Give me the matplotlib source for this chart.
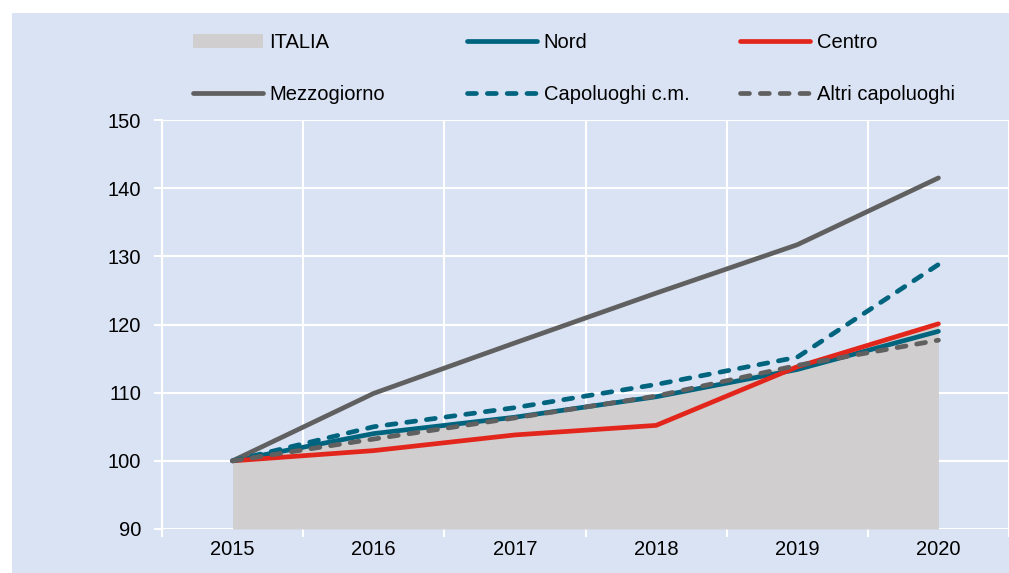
import matplotlib
matplotlib.use("Agg")
import matplotlib.pyplot as plt
from matplotlib.lines import Line2D
from matplotlib.patches import Rectangle, Patch
from matplotlib import font_manager

years = ["2015", "2016", "2017", "2018", "2019", "2020"]
italia = [100, 103.8, 106.3, 109.6, 114.2, 120.5]
nord = [100, 104.0, 106.4, 109.4, 113.4, 119.0]
centro = [100, 101.5, 103.8, 105.2, 113.8, 120.1]
mezzogiorno = [100, 109.9, 117.3, 124.6, 131.7, 141.5]
capoluoghi = [100, 105.0, 107.8, 111.2, 115.2, 128.8]
altri = [100, 103.2, 106.3, 109.5, 114.0, 117.7]
yticks = [90, 100, 110, 120, 130, 140, 150]

names = {f.name for f in font_manager.fontManager.ttflist}
fam = ['Liberation Sans Narrow', 'Liberation Sans', 'DejaVu Sans'] if 'Liberation Sans Narrow' in names else ['Liberation Sans', 'DejaVu Sans']
plt.rcParams['font.family'] = fam

BG = '#dae3f3'
C_NORD = '#00647f'
C_CENTRO = '#e3261c'
C_MEZZ = '#606060'
C_ITA = '#d0cece'

W, H = 1009, 573
fig = plt.figure(figsize=(W / 100, H / 100), dpi=100)
fig.patch.set_facecolor('white')
fig.add_artist(Rectangle((12 / W, 0), 1 - 12 / W, 1 - 13 / H, transform=fig.transFigure,
                         facecolor=BG, edgecolor='none', zorder=0))

ax = fig.add_axes([162 / W, 1 - 529 / H, (W - 162) / W, (529 - 120) / H])
ax.set_facecolor(BG)
x = list(range(len(years)))

DASH = (1.9, 2.3)
ax.fill_between(x, 90, italia, color=C_ITA, linewidth=0, zorder=2)
lw = 3.4
ax.plot(x, nord, color=C_NORD, lw=lw, solid_capstyle='round', zorder=3)
ax.plot(x, centro, color=C_CENTRO, lw=lw, solid_capstyle='round', zorder=4)
ax.plot(x, mezzogiorno, color=C_MEZZ, lw=lw, solid_capstyle='round', zorder=5)
ax.plot(x, capoluoghi, color=C_NORD, lw=lw, dashes=DASH, dash_capstyle='round', zorder=6)
ax.plot(x, altri, color=C_MEZZ, lw=lw, dashes=DASH, dash_capstyle='round', zorder=7)

FS = 14.5
ax.set_xlim(-0.5, 5.5)
ax.set_ylim(90, 150)
ax.set_yticks(yticks)
ax.set_xticks(x)
ax.set_xticklabels(years)
ax.set_xticks([i - 0.5 for i in range(len(years))] + [5.5], minor=True)
ax.tick_params(axis='x', which='major', length=0, pad=8, labelsize=FS, colors='black')
ax.tick_params(axis='x', which='minor', length=6, width=1.5, color='white')
ax.tick_params(axis='y', length=6, width=1.5, color='white', pad=9, labelsize=FS)
ax.grid(True, which='major', axis='y', color='white', lw=1.5, zorder=1)
ax.grid(True, which='minor', axis='x', color='white', lw=1.5, zorder=1)
for s in ['top', 'right', 'bottom']:
    ax.spines[s].set_visible(False)
ax.spines['left'].set_color('white')
ax.spines['left'].set_linewidth(1.5)
ax.set_axisbelow(True)

# legend, three columns placed manually
def h_line(color, dashed=False):
    if dashed:
        return Line2D([], [], color=color, lw=lw, dashes=DASH, dash_capstyle='round')
    return Line2D([], [], color=color, lw=lw, solid_capstyle='round')

cols = [
    (193, [Patch(facecolor=C_ITA, edgecolor='none'), h_line(C_MEZZ)], ['ITALIA', 'Mezzogiorno']),
    (467, [h_line(C_NORD), h_line(C_NORD, True)], ['Nord', 'Capoluoghi c.m.']),
    (740, [h_line(C_CENTRO), h_line(C_MEZZ, True)], ['Centro', 'Altri capoluoghi']),
]
for xpix, hs, ls in cols:
    fig.legend(hs, ls, loc='upper left', bbox_to_anchor=(xpix / W, 1 - 33 / H),
               frameon=False, fontsize=FS, handlelength=3.5, handleheight=0.65,
               handletextpad=0.3, labelspacing=1.65, borderpad=0, borderaxespad=0)

fig.savefig('out.png', dpi=100, facecolor=fig.get_facecolor())
